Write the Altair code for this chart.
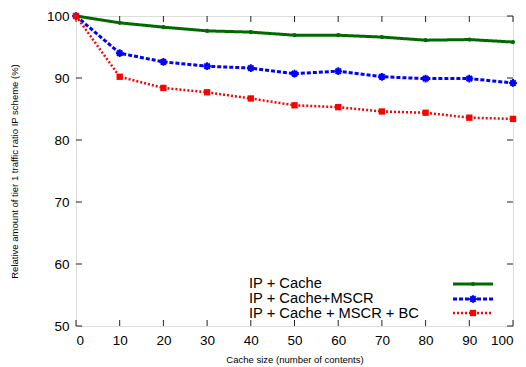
import altair as alt
import pandas as pd

cache_sizes = [0, 10, 20, 30, 40, 50, 60, 70, 80, 90, 100]
ip_cache = [100, 98.9, 98.2, 97.6, 97.4, 96.9, 96.9, 96.6, 96.1, 96.2, 95.8]
ip_cache_mscr = [100, 94.0, 92.6, 91.9, 91.6, 90.7, 91.1, 90.2, 89.9, 89.9, 89.2]
ip_cache_mscr_bc = [100, 90.2, 88.4, 87.7, 86.7, 85.6, 85.3, 84.6, 84.4, 83.6, 83.4]

series_names = ["IP + Cache", "IP + Cache+MSCR", "IP + Cache + MSCR + BC"]
series_values = [ip_cache, ip_cache_mscr, ip_cache_mscr_bc]
series_colors = ["#006a00", "#0000ff", "#ff0000"]
series_dash = [[1, 0], [4, 2], [2, 2]]
ASTERISK = "M-1,0L1,0M0,-1L0,1M-0.7,-0.7L0.7,0.7M-0.7,0.7L0.7,-0.7"
series_shape = ["circle", ASTERISK, "square"]
series_filled = [True, False, True]
series_size = [18, 60, 40]
series_width = [3, 3, 2.5]

x_ticks = [0, 10, 20, 30, 40, 50, 60, 70, 80, 90, 100]
y_ticks = [50, 60, 70, 80, 90, 100]

W, H = 437, 310
FONT = "Liberation Sans"

xs = alt.Scale(domain=[0, 100], nice=False)
ys = alt.Scale(domain=[50, 100], nice=False)

x_axis = alt.Axis(values=x_ticks, title="Cache size (number of contents)", grid=False,
                  ticks=False, domain=False, labelFontSize=13.5, labelPadding=7,
                  titleFontSize=9.5, titleFontWeight="normal", titlePadding=8,
                  labelFont=FONT, titleFont=FONT, labelColor="black", titleColor="black")
y_axis = alt.Axis(values=y_ticks, title="Relative amount of tier 1 traffic ratio IP scheme (%)",
                  grid=False, ticks=False, domain=False, labelFontSize=13.5, labelPadding=7,
                  titleFontSize=9.5, titleFontWeight="normal", titlePadding=27,
                  labelFont=FONT, titleFont=FONT, labelColor="black", titleColor="black")

layers = []

# axis frame ticks (inward, mirrored)
xt = pd.DataFrame({"x": x_ticks})
yt = pd.DataFrame({"y": y_ticks})
layers.append(alt.Chart(xt).mark_rule(color="#222", strokeWidth=1).encode(
    x=alt.X("x:Q", scale=xs, axis=x_axis), y=alt.value(H), y2=alt.value(H - 6)))
layers.append(alt.Chart(xt).mark_rule(color="#222", strokeWidth=1).encode(
    x=alt.X("x:Q", scale=xs), y=alt.value(0), y2=alt.value(6)))
layers.append(alt.Chart(yt).mark_rule(color="#222", strokeWidth=1).encode(
    y=alt.Y("y:Q", scale=ys, axis=y_axis), x=alt.value(0), x2=alt.value(6)))
layers.append(alt.Chart(yt).mark_rule(color="#222", strokeWidth=1).encode(
    y=alt.Y("y:Q", scale=ys), x=alt.value(W), x2=alt.value(W - 6)))

legend_text_y = [272.3, 287.3, 302.3]
legend_line_y = [268, 283, 297]
for i, name in enumerate(series_names):
    df = pd.DataFrame({"x": cache_sizes, "y": series_values[i]})
    base = alt.Chart(df).encode(x=alt.X("x:Q", scale=xs), y=alt.Y("y:Q", scale=ys))
    layers.append(base.mark_line(color=series_colors[i], strokeWidth=series_width[i],
                                 strokeDash=series_dash[i]))
    pt_kwargs = dict(color=series_colors[i], filled=series_filled[i], opacity=1,
                     shape=series_shape[i], size=series_size[i])
    if not series_filled[i]:
        pt_kwargs["strokeWidth"] = 2
    layers.append(base.mark_point(**pt_kwargs))
    ld = pd.DataFrame({"label": [name]})
    lb = alt.Chart(ld)
    layers.append(lb.mark_text(align="left", baseline="alphabetic", fontSize=14.7, font=FONT,
                               color="black").encode(
        text="label:N", x=alt.value(173), y=alt.value(legend_text_y[i])))
    layers.append(lb.mark_rule(color=series_colors[i], strokeWidth=series_width[i],
                               strokeDash=series_dash[i]).encode(
        x=alt.value(377), x2=alt.value(417), y=alt.value(legend_line_y[i])))
    layers.append(lb.mark_point(**pt_kwargs).encode(
        x=alt.value(397), y=alt.value(legend_line_y[i])))

chart = alt.layer(*layers).properties(
    width=W, height=H,
    autosize=alt.AutoSizeParams(type="none"),
    padding={"left": 68, "top": 8, "right": 5, "bottom": 41},
).configure_view(stroke="black", strokeWidth=1.5).configure(background="white")

chart.save("out.html", embed_options={"renderer": "svg", "actions": False})
